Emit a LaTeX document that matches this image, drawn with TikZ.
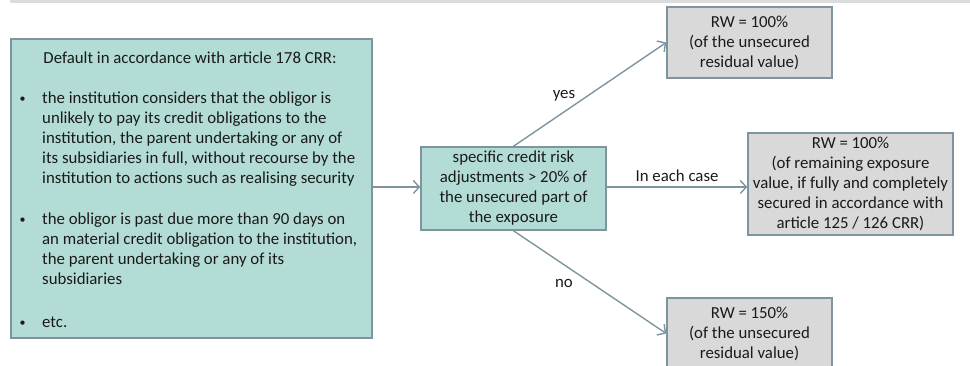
\documentclass[tikz,border=0pt]{standalone}
\usepackage{fontspec}
\setmainfont{Carlito}
\usetikzlibrary{arrows.meta}
\definecolor{tealfill}{HTML}{B2DCD5}
\definecolor{greyfill}{HTML}{D9D9D9}
\definecolor{edgeblue}{HTML}{7E95A0}
\definecolor{txt}{HTML}{1A1A1A}
\definecolor{topbar}{HTML}{DCDCDC}
\newcommand\bodyfont{\fontsize{16.8}{20}\selectfont}
\tikzset{
  tealbox/.style={draw=edgeblue, line width=1.5pt, fill=tealfill, inner sep=0pt},
  greybox/.style={draw=edgeblue, line width=1.5pt, fill=greyfill, inner sep=0pt,
    text=txt, align=center, font=\bodyfont},
  textline/.style={inner sep=0pt, text=txt, font=\bodyfont},
  bulletmark/.style={inner sep=0pt, text=txt, font=\fontsize{12}{14}\selectfont},
  flow/.style={draw=edgeblue, line width=1.4pt, -{Straight Barb[length=6pt,width=13pt,line width=1.4pt]}},
  lbl/.style={inner sep=0pt, text=txt, font=\bodyfont}
}
\begin{document}
\begin{tikzpicture}[x=1pt,y=-1pt]
\useasboundingbox (0,0) rectangle (970,365);
\clip (0,0) rectangle (970,365);
% header rule
\fill[topbar] (10,0) rectangle (970,3);

% condition box with its list
\node[tealbox, minimum width=361pt, minimum height=299pt, anchor=north west] (cond) at (10,38) {};
\node[textline, anchor=base] (title) at (190,63) {Default in accordance with article 178 CRR:};
\node[bulletmark, anchor=base] (b1) at (22.5,102) {•};
\node[textline, anchor=base west] (i1) at (42,103)
  {\begin{tabular}[t]{@{}l@{}}
   the institution considers that the obligor is\\
   unlikely to pay its credit obligations to the\\
   institution, the parent undertaking or any of\\
   its subsidiaries in full, without recourse by the\\
   institution to actions such as realising security
   \end{tabular}};
\node[bulletmark, anchor=base] (b2) at (22.5,223) {•};
\node[textline, anchor=base west] (i2) at (42,224)
  {\begin{tabular}[t]{@{}l@{}}
   the obligor is past due more than 90 days on\\
   an material credit obligation to the institution,\\
   the parent undertaking or any of its\\
   subsidiaries
   \end{tabular}};
\node[bulletmark, anchor=base] (b3) at (22.5,326) {•};
\node[textline, anchor=base west] (i3) at (42,327) {etc.};

% decision box
\node[tealbox, minimum width=185pt, minimum height=83pt, text=txt, align=center,
  font=\bodyfont] (mid) at (513.5,188.5)
  {specific credit risk\\ adjustments > 20\% of\\ the unsecured part of\\ the exposure};

% outcome boxes
\node[greybox, minimum width=165pt, minimum height=71pt] (yesbox) at (749.5,42.5)
  {RW = 100\%\\ (of the unsecured\\ residual value)};
\node[greybox, minimum width=205pt, minimum height=102pt] (allbox) at (850.5,184)
  {RW = 100\%\\ (of remaining exposure\\ value, if fully and completely\\ secured in accordance with\\ article 125 / 126 CRR)};
\node[greybox, minimum width=165pt, minimum height=71pt] (nobox) at (749.5,333.5)
  {RW = 150\%\\ (of the unsecured\\ residual value)};

% connectors
\draw[flow] (cond.east |- 0,187) -- (mid.west |- 0,187);
\draw[flow] (mid.north) -- (yesbox.west);
\draw[flow] (mid.east |- 0,187) -- (allbox.west |- 0,187);
\draw[flow] (mid.south) -- (nobox.west);

% branch labels
\node[lbl] (yeslbl) at (564,96) {yes};
\node[lbl] (eachlbl) at (677,176) {In each case};
\node[lbl] (nolbl) at (564,283) {no};
\end{tikzpicture}
\end{document}
